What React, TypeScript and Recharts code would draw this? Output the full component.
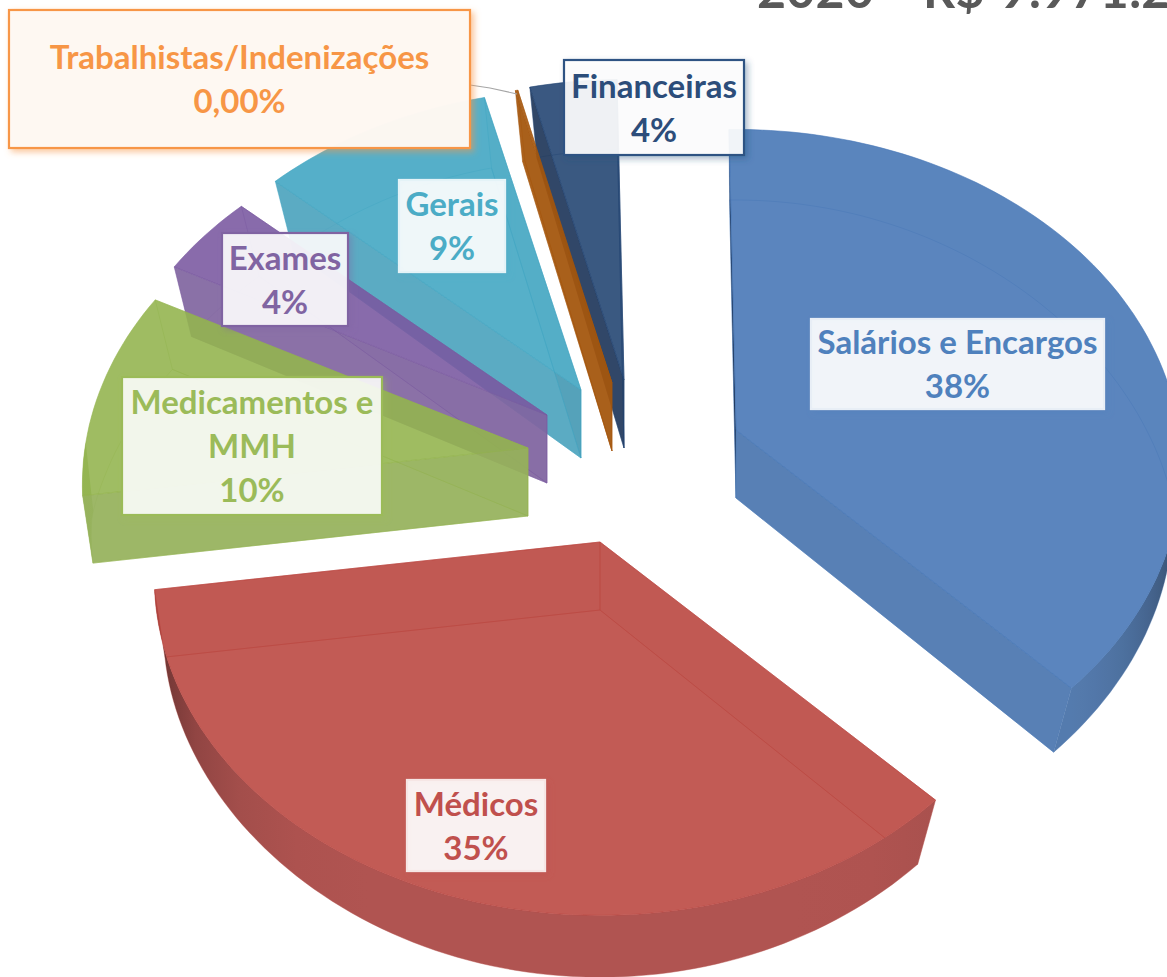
import React from "react";
import { PieChart, Pie } from "recharts";

const categories = ["Salários e Encargos", "Médicos", "Medicamentos e MMH", "Exames", "Gerais", "Trabalhistas/Indenizações", "Financeiras"];
const shares = [38, 35.1, 10, 4, 9.4, 0.1, 3.5];
const shareLabels = ["38%", "35%", "10%", "4%", "9%", "0,00%", "4%"];
const titleText = "2020 - R$ 9.971.2";

const FONT = "Lato, 'Open Sans', sans-serif";
const fillColors = ["#4575b5", "#ba453f", "#93b44e", "#7a59a0", "#40a5c2", "#a5560d", "#214371"];
const wallColors = [[88, 128, 181], [176, 84, 81], [150, 178, 92], [130, 103, 160], [80, 165, 190], [160, 95, 35], [56, 84, 122]];
const wallOpacity = [1, 1, 0.93, 0.93, 0.93, 0.93, 0.93];
const edgeColors = ["#14233d", "#7a2c28", "#5f7a2c", "#4e3870", "#2a6f85", "#a5560d", "#223a5c"];
const wallDarkening = [0.5, 0.5, 0, 0, 0, 0, 0];
const textColors = ["#4f81bd", "#c0504d", "#9bbb59", "#8064a2", "#4bacc6", "#f79646", "#2c4d7a"];
const borderColors = ["#e8eef6", "#f6e6e5", "#9bbb59", "#8064a2", "#e4f3f7", "#f79646", "#2f5283"];
const explode = [[70, 20], [-66, 132], [-138, 38], [-119, 5], [-85, -20], [-54, -27], [-42, -30]];
const labelBoxes = [[811, 319, 293, 90], [407, 780, 138, 91], [122, 377, 260, 138], [222, 233, 126, 93], [399, 180, 106, 92], [9, 10, 461, 138], [564, 60, 180, 95]];
const labelFills = ["rgba(255,255,255,0.9)", "rgba(255,255,255,0.9)", "rgba(255,255,255,0.86)", "rgba(255,255,255,0.88)", "rgba(255,255,255,0.89)", "rgba(254,249,244,0.97)", "rgba(255,255,255,0.9)"];
const labelLines = [["Salários e Encargos"], ["Médicos"], ["Medicamentos e", "MMH"], ["Exames"], ["Gerais"], ["Trabalhistas/Indenizações"], ["Financeiras"]];

const DEPTH = 68;
const rad = (d: number) => (d * Math.PI) / 180;
const top = (t: number) => {
  const u = Math.sin(rad(t)), v = -Math.cos(rad(t));
  const d = 1 - 0.108 * v;
  return [(443 * u) / d, (333 * v) / d];
};
const bottom = (t: number) => {
  const u = Math.sin(rad(t)), v = -Math.cos(rad(t));
  const kx = v < 0 ? 0.18 : 0.057;
  return [(436 * u) / (1 - kx * v), (329 * v) / (1 - 0.104 * v) + DEPTH];
};
const pts = (list: number[][]) => list.map((p) => `${p[0].toFixed(1)},${p[1].toFixed(1)}`).join(" ");

function SliceShape(props: any) {
  const i = categories.indexOf(props.name);
  const [dx, dy] = explode[i];
  const ax = props.cx + dx, ay = props.cy + dy;
  const t0 = 90 - props.endAngle, t1 = 90 - props.startAngle;
  const n = Math.max(2, Math.ceil((t1 - t0) / 1.5));
  const angles = Array.from({ length: n + 1 }, (_, k) => t0 + ((t1 - t0) * k) / n);
  const at = (f: (t: number) => number[], t: number) => { const p = f(t); return [ax + p[0], ay + p[1]]; };
  const topArc = angles.map((t) => at(top, t));
  const botArc = angles.map((t) => at(bottom, t));
  const apexTop = [ax, ay], apexBot = [ax, ay + DEPTH];
  const fill = fillColors[i];
  const wall = wallColors[i];

  const runs: { front: boolean; ts: number[] }[] = [];
  angles.forEach((t) => {
    const front = -Math.cos(rad(t)) > 0;
    const last = runs[runs.length - 1];
    if (last && last.front === front) last.ts.push(t);
    else {
      if (last) last.ts.push(t);
      runs.push({ front, ts: last ? [last.ts[last.ts.length - 1], t] : [t] });
    }
  });

  // A radial wall is exposed when the depth direction leaves the wedge on screen.
  const radial = (t: number, isStart: boolean, key: string) => {
    const s = Math.sin(rad(t));
    const exposed = isStart ? s < 0 : s > 0;
    const edgeOn = Math.abs(s) < 0.3;
    const wallFill = edgeOn ? edgeColors[i] : exposed ? `rgb(${wall.join(",")})` : fill;
    return (
      <polygon key={key} points={pts([apexTop, at(top, t), at(bottom, t), apexBot])}
        fill={wallFill} fillOpacity={exposed ? wallOpacity[i] : 0.14}
        stroke={fill} strokeOpacity={0.6} strokeWidth={0.8} />
    );
  };

  return (
    <g>
      <polygon points={pts([apexBot, ...botArc])} fill={fill} fillOpacity={0.08} stroke={fill} strokeOpacity={0.5} strokeWidth={0.8} />
      {runs.filter((r) => !r.front && r.ts.length > 1).map((r, k) => (
        <polygon key={`b${k}`} points={pts([...r.ts.map((t) => at(top, t)), ...r.ts.slice().reverse().map((t) => at(bottom, t))])}
          fill={fill} fillOpacity={0.1} />
      ))}
      {radial(t0, true, "s")}
      {radial(t1, false, "e")}
      {runs.filter((r) => r.front && r.ts.length > 1).map((r, k) => {
        const id = `wall-${i}-${k}`;
        const x1 = at(top, r.ts[0])[0], x2 = at(top, r.ts[r.ts.length - 1])[0];
        const step = Math.max(1, Math.floor(r.ts.length / 12));
        const samples = r.ts.filter((_, q) => q % step === 0 || q === r.ts.length - 1);
        return (
          <g key={`f${k}`}>
            <defs>
              <linearGradient id={id} gradientUnits="userSpaceOnUse" x1={x1} x2={x2} y1={0} y2={0}>
                {samples.map((t, q) => {
                  const shade = 1 - wallDarkening[i] * Math.pow(Math.abs(Math.sin(rad(t))), 7);
                  const off = x2 === x1 ? 0 : (at(top, t)[0] - x1) / (x2 - x1);
                  return <stop key={q} offset={off} stopColor={`rgb(${wall.map((c) => Math.round(c * shade)).join(",")})`} />;
                })}
              </linearGradient>
            </defs>
            <polygon points={pts([...r.ts.map((t) => at(top, t)), ...r.ts.slice().reverse().map((t) => at(bottom, t))])}
              fill={`url(#${id})`} fillOpacity={wallOpacity[i]} />
          </g>
        );
      })}
      <polygon points={pts([apexTop, ...topArc])} fill={fill} fillOpacity={0.88} stroke={fill} strokeOpacity={0.7} strokeWidth={0.8} />
    </g>
  );
}

function SliceLabel(props: any) {
  const i = categories.indexOf(props.name);
  const [x, y, w, h] = labelBoxes[i];
  const lines = [...labelLines[i], shareLabels[i]];
  const cx = x + w / 2;
  const lineGap = 44;
  const first = y + h / 2 - ((lines.length - 1) * lineGap) / 2 + 12;
  const fid = `shadow-${i}`;
  return (
    <g>
      <defs>
        <filter id={fid} x="-20%" y="-20%" width="140%" height="140%">
          <feDropShadow dx={3} dy={3} stdDeviation={3} floodColor={textColors[i]} floodOpacity={i === 5 ? 0.55 : 0.4} />
        </filter>
      </defs>
      {i === 5 && <polyline points="470,85 490,88 517,94" fill="none" stroke="#a6a6a6" strokeWidth={1.2} />}
      <rect x={x} y={y} width={w} height={h} fill={labelFills[i]} stroke={borderColors[i]} strokeWidth={2.2} filter={`url(#${fid})`} />
      {lines.map((line, k) => (
        <text key={k} x={cx} y={first + k * lineGap} textAnchor="middle" fontFamily={FONT} fontWeight={700} fontSize={33} fill={textColors[i]}>
          {line}
        </text>
      ))}
    </g>
  );
}

const table = categories.map((name, k) => ({ name, value: shares[k] })).reverse();

export default function App() {
  return (
    <div style={{ position: "absolute", left: 0, top: 0, width: 1167, height: 977, overflow: "hidden", background: "#fff" }}>
      <PieChart width={1167} height={977} margin={{ top: 0, right: 0, bottom: 0, left: 0 }}>
        <Pie data={table} dataKey="value" nameKey="name" cx={666} cy={410} innerRadius={0} outerRadius={300}
          startAngle={91} endAngle={451} stroke="none" isAnimationActive={false}
          shape={SliceShape} label={SliceLabel} labelLine={false} />
      </PieChart>
      <div style={{ position: "absolute", left: 757, top: -41, whiteSpace: "nowrap", fontFamily: FONT, fontWeight: 700, fontSize: 50, lineHeight: "60px", letterSpacing: 0.3, wordSpacing: 2.5, color: "#595959" }}>
        {titleText}
      </div>
    </div>
  );
}
